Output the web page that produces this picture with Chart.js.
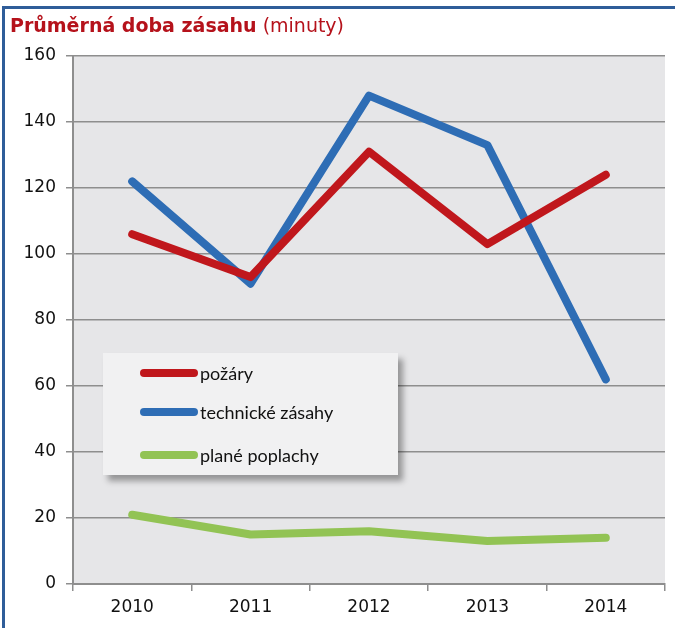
<!DOCTYPE html>
<html><head><meta charset="utf-8">
<script src="https://cdn.jsdelivr.net/npm/chart.js@4"></script>
<style>
html,body{margin:0;padding:0;background:#fff;}
#wrap{position:relative;width:675px;height:628px;overflow:hidden;}
#bl{position:absolute;left:2px;top:6px;width:3px;height:622px;background:#2F5D99;}
#bt{position:absolute;left:2px;top:6px;width:673px;height:3px;background:#2F5D99;}
#title{position:absolute;left:10px;top:14px;font-family:"DejaVu Sans",sans-serif;font-size:19px;color:#B5121B;white-space:nowrap;}
#title b{font-weight:bold;}
#c{position:absolute;left:0;top:0;}
#legend{position:absolute;left:103px;top:353px;width:295px;height:122px;background:#F1F1F2;box-shadow:5px 6px 6px rgba(0,0,0,0.35);font-family:Lato,"Open Sans",sans-serif;font-size:18px;color:#111;}
.li{position:absolute;left:37px;height:24px;display:flex;align-items:center;}
.li span.sw{display:inline-block;width:58px;height:8px;border-radius:4px;margin-right:2px;}
</style></head>
<body><div id="wrap">
<canvas id="c" width="675" height="628"></canvas>
<div id="bl"></div><div id="bt"></div>
<div id="title"><b>Průměrná doba zásahu</b> (minuty)</div>
<div id="legend"></div>
</div>
<script>
const categories = ["2010","2011","2012","2013","2014"];
const seriesNames = ["požáry","technické zásahy","plané poplachy"];
const pozary = [106, 93, 131, 103, 124];
const technicke = [122, 91, 148, 133, 62];
const plane = [21, 15, 16, 13, 14];
const yTicks = [0,20,40,60,80,100,120,140,160];
const colors = ["#C0171C","#2E6DB5","#92C354"];

const bgPlugin = {
  id:'bg',
  beforeDraw(chart){
    const {ctx, chartArea:a} = chart;
    ctx.save(); ctx.fillStyle='#E6E6E8';
    ctx.fillRect(a.left,a.top,a.right-a.left,a.bottom-a.top);
    ctx.restore();
  }
};

const tickFont = {family:'"DejaVu Sans", sans-serif', size:17};

const chart = new Chart(document.getElementById('c'), {
  type:'line',
  data:{
    labels:categories,
    datasets:[pozary,technicke,plane].map((d,i)=>({
      label:seriesNames[i], data:d, borderColor:colors[i], backgroundColor:colors[i],
      borderWidth:8, pointRadius:0, tension:0, borderCapStyle:'round', borderJoinStyle:'round', fill:false
    }))
  },
  options:{
    responsive:false, animation:false, devicePixelRatio:1,
    layout:{padding:{top:56,right:10,left:0,bottom:0}},
    plugins:{legend:{display:false}, tooltip:{enabled:false}},
    scales:{
      x:{
        offset:true,
        grid:{offset:true, drawOnChartArea:false, drawTicks:true, tickLength:7, color:'#8E8E8E', lineWidth:1.5},
        border:{color:'#8E8E8E', width:2},
        ticks:{color:'#111', font:tickFont, padding:6},
        afterFit(s){ s.height = 44; }
      },
      y:{
        min:0, max:160,
        afterBuildTicks(s){ s.ticks = yTicks.map(v=>({value:v})); },
        grid:{color:'#8E8E8E', lineWidth:1.5, drawTicks:true, tickLength:7},
        border:{color:'#8E8E8E', width:2},
        ticks:{color:'#111', font:tickFont, padding:10},
        afterFit(s){ s.width = 73; }
      }
    }
  },
  plugins:[bgPlugin]
});

const leg = document.getElementById('legend');
const rowsY = [8, 47, 90];
chart.data.datasets.forEach((ds,i)=>{
  const r = document.createElement('div');
  r.className='li'; r.style.top = rowsY[i]+'px';
  r.innerHTML = '<span class="sw" style="background:'+ds.borderColor+'"></span>'+ds.label;
  leg.appendChild(r);
});
</script>
</body></html>
